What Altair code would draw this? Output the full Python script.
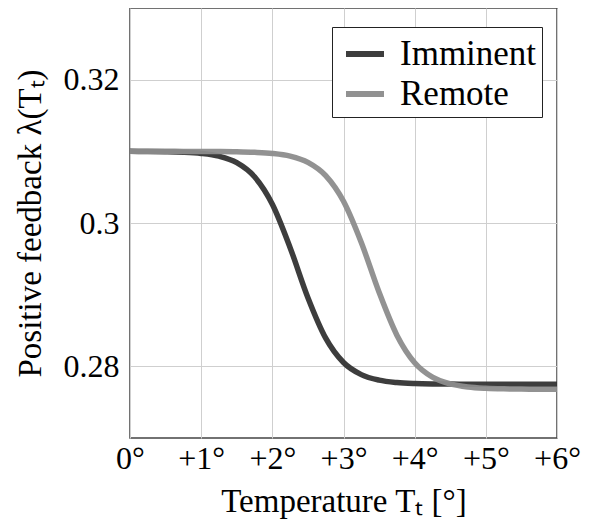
import json
import altair as alt
import pandas as pd

# ---- data ----
temperature = [0.0, 0.25, 0.5, 0.75, 1.0, 1.25, 1.5, 1.75, 2.0, 2.25, 2.5, 2.75,
               3.0, 3.25, 3.5, 3.75, 4.0, 4.25, 4.5, 4.75, 5.0, 5.25, 5.5, 5.75, 6.0]
imminent = [0.31000, 0.30998, 0.30995, 0.30988, 0.30971, 0.30932, 0.30842, 0.30645,
            0.30262, 0.29656, 0.28958, 0.28393, 0.28053, 0.27884, 0.27807, 0.27774,
            0.27760, 0.27754, 0.27752, 0.27751, 0.27750, 0.27750, 0.27750, 0.27750, 0.27750]
remote = [0.31000, 0.31000, 0.31000, 0.30999, 0.30999, 0.30998, 0.30995, 0.30987,
          0.30971, 0.30933, 0.30846, 0.30661, 0.30303, 0.29728, 0.29033, 0.28435,
          0.28050, 0.27849, 0.27755, 0.27712, 0.27694, 0.27686, 0.27683, 0.27681, 0.27680]

series_names = ["Imminent", "Remote"]
series_colors = ["#333333", "#8c8c8c"]

x_ticks = [0, 1, 2, 3, 4, 5, 6]
x_tick_labels = ["0°", "+1°", "+2°", "+3°", "+4°", "+5°", "+6°"]
y_ticks = [0.28, 0.30, 0.32]
y_tick_labels = ["0.28", "0.3", "0.32"]

x_title = "Temperature Tₜ [°]"
y_title = "Positive feedback λ(Tₜ)"

# ---- build table ----
rows = []
for name, vals in zip(series_names, [imminent, remote]):
    for t, v in zip(temperature, vals):
        rows.append({"T": t, "lam": v, "series": name})
df = pd.DataFrame(rows)

x_map = {str(v): l for v, l in zip(x_ticks, x_tick_labels)}
y_map = {("%g" % v): l for v, l in zip(y_ticks, y_tick_labels)}

FONT = "Liberation Serif, Times New Roman, serif"

chart = alt.Chart(df).mark_line(
    strokeWidth=5.5, interpolate="monotone", opacity=0.95, strokeCap="butt"
).encode(
    x=alt.X("T:Q",
            scale=alt.Scale(domain=[0, 6], nice=False),
            axis=alt.Axis(values=x_ticks, title=x_title, labelFlush=False,
                          labelOverlap=False,
                          labelExpr=f"{json.dumps(x_map)}[''+datum.value]")),
    y=alt.Y("lam:Q",
            scale=alt.Scale(domain=[0.27, 0.33], nice=False, zero=False),
            axis=alt.Axis(values=y_ticks, title=y_title, labelFlush=False,
                          labelExpr=f"{json.dumps(y_map)}[''+datum.value]")),
    color=alt.Color("series:N",
                    scale=alt.Scale(domain=series_names, range=series_colors),
                    legend=alt.Legend(orient="none", legendX=202, legendY=19,
                                      title=None, symbolType="stroke",
                                      symbolSize=1444, symbolStrokeWidth=6,
                                      symbolOffset=6,
                                      labelFontSize=35, labelFont=FONT,
                                      labelColor="black", labelOffset=13,
                                      rowPadding=0, padding=5,
                                      strokeColor="#222222", fillColor="white")),
    order=alt.Order("series:N"),
).properties(
    width=427, height=430,
    autosize=alt.AutoSizeParams(type="none"),
    padding={"left": 122, "top": 0, "right": 25, "bottom": 84},
).configure(
    font=FONT
).configure_view(
    stroke="#444444", strokeWidth=1.5
).configure_axis(
    grid=True, gridColor="#cfcfcf", gridWidth=1,
    domain=False, ticks=False,
    labelFont=FONT, labelFontSize=32, labelColor="black",
    titleFont=FONT, titleFontSize=33, titleColor="black", titleFontWeight="normal",
).configure_axisX(
    labelPadding=5, titlePadding=11,
).configure_axisY(
    labelPadding=11, titlePadding=16,
)

chart.save("out.html", embed_options={"renderer": "svg", "actions": False})
